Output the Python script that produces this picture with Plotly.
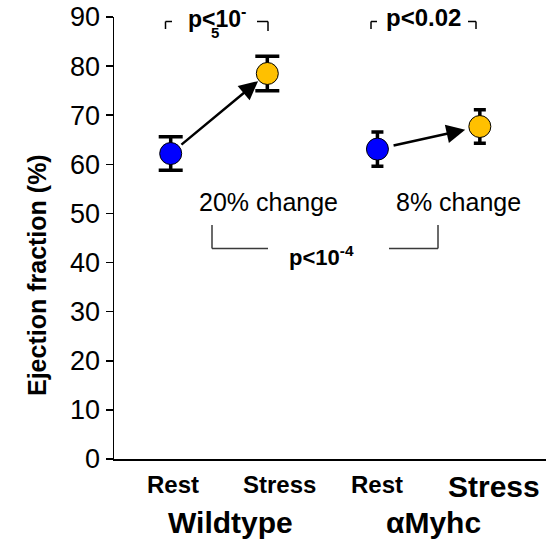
import plotly.graph_objects as go

# ---- data ----
groups = ["Wildtype", "αMyhc"]
conditions = ["Rest", "Stress", "Rest", "Stress"]
ef_mean = [62.2, 78.5, 63.1, 67.7]
ef_err = [3.4, 3.5, 3.5, 3.4]
x_pos = [0.0, 1.0, 2.14, 3.2]
pct_change = ["20% change", "8% change"]
p_within = ["p&lt;10<sup>-</sup>", "p&lt;0.02"]
p_between = "p&lt;10<sup>-4</sup>"
y_ticks = [0, 10, 20, 30, 40, 50, 60, 70, 80, 90]

colors = ["#0000FF", "#FFC000", "#0000FF", "#FFC000"]
FONT = "Liberation Sans, Arial, sans-serif"

W, H = 546, 546
L, T, R, B = 114, 17, 0, 87
PW, PH = W - L - R, H - T - B


def px(x):  # page pixel -> paper
    return (x - L) / PW


def py(y):
    return (T + PH - y) / PH


fig = go.Figure()

cap_w = [12, 6]
for g in range(2):
    idx = [2 * g, 2 * g + 1]
    fig.add_trace(go.Scatter(
        x=[x_pos[i] for i in idx],
        y=[ef_mean[i] for i in idx],
        mode="markers",
        marker=dict(size=22, color=[colors[i] for i in idx],
                    line=dict(color="black", width=1)),
        error_y=dict(type="data", array=[ef_err[i] for i in idx],
                     color="black", thickness=3.5, width=cap_w[g]),
        showlegend=False, cliponaxis=False, hoverinfo="skip",
    ))

annotations = []
# arrows rest -> stress
stand = [12, 15]
for g in range(2):
    a, b = 2 * g, 2 * g + 1
    annotations.append(dict(
        x=x_pos[b], y=ef_mean[b], ax=x_pos[a], ay=ef_mean[a],
        xref="x", yref="y", axref="x", ayref="y",
        showarrow=True, arrowhead=2, arrowsize=1.5, arrowwidth=2.5,
        arrowcolor="black", standoff=stand[g], startstandoff=stand[g], text="",
    ))


def txt(text, x, y, size, bold=True, **kw):
    t = f"<b>{text}</b>" if bold else text
    d = dict(text=t, x=px(x), y=py(y), xref="paper", yref="paper",
             showarrow=False, xanchor="center", yanchor="middle",
             font=dict(family=FONT, size=size, color="black"))
    d.update(kw)
    annotations.append(d)


# x category labels
txt(conditions[0], 173, 484, 24)
txt(conditions[1], 279, 484, 24)
txt(conditions[2], 377, 484, 24)
txt(conditions[3], 494, 486, 30)
txt(groups[0], 230, 522, 30)
txt(groups[1], 433, 522, 30)

# change labels
txt(pct_change[0], 268, 202, 25, bold=False)
txt(pct_change[1], 458, 202, 25, bold=False)
txt(p_between, 321, 256, 22)

# top p-values
txt(p_within[0], 217, 17, 23)
txt("5", 215, 33, 15)
txt(p_within[1], 423, 17, 24)

# y title
annotations.append(dict(
    text="<b>Ejection fraction (%)</b>", x=px(37), y=py(275),
    xref="paper", yref="paper", showarrow=False, textangle=-90,
    xanchor="center", yanchor="middle",
    font=dict(family=FONT, size=25, color="black")))

shapes = []


def seg(x0, y0, x1, y1, color="black", width=1.5):
    shapes.append(dict(type="line", xref="paper", yref="paper",
                       x0=px(x0), y0=py(y0), x1=px(x1), y1=py(y1),
                       line=dict(color=color, width=width)))


# top brackets
seg(165.5, 21.5, 172, 21.5); seg(165.5, 21.5, 165.5, 29)
seg(257, 21.5, 268, 21.5); seg(268, 21.5, 268, 31)
seg(371, 21.5, 377, 21.5); seg(371, 21.5, 371, 29)
seg(468, 21.5, 476, 21.5); seg(476, 21.5, 476, 29)
# middle bracket
gc = "#3a3a3a"
seg(212, 225, 212, 248.5, gc); seg(212, 248.5, 268, 248.5, gc)
seg(389, 248.5, 438, 248.5, gc); seg(438, 248.5, 438, 225, gc)

fig.update_layout(
    width=W, height=H,
    margin=dict(l=L, r=R, t=T, b=B, pad=0),
    paper_bgcolor="white", plot_bgcolor="white",
    annotations=annotations, shapes=shapes,
    font=dict(family=FONT, color="black"),
    hovermode=False,
    xaxis=dict(range=[-0.587, 3.885], showgrid=False, zeroline=False,
               showticklabels=False, ticks="", showline=True,
               linecolor="black", linewidth=1.5, fixedrange=True),
    yaxis=dict(range=[0, 90], tickvals=y_ticks, showgrid=False,
               zeroline=False, showline=True, linecolor="black",
               linewidth=1.5, ticks="outside", ticklen=7, tickwidth=1.5,
               tickcolor="black", tickfont=dict(family=FONT, size=27),
               fixedrange=True),
)

fig.write_html(
    "out.html",
    config={"displayModeBar": False, "staticPlot": True},
    post_script="document.body.style.margin='0';document.body.style.overflow='hidden';",
)
